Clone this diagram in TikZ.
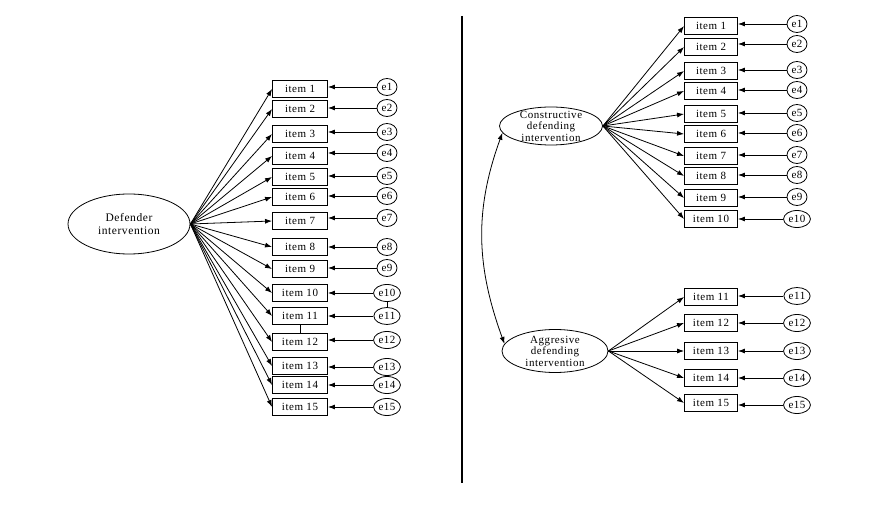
\documentclass[tikz,border=0pt]{standalone}
\usepackage{fontspec}
\setmainfont{Liberation Serif}[LetterSpace=5]
\usepackage{tikz}
\usetikzlibrary{shapes.geometric,arrows.meta}

\begin{document}
\begin{tikzpicture}[x=1pt,y=1pt,font=\fontsize{11}{11.5}\selectfont]
	\tikzstyle{item}=[draw=black,line width=0.9pt,minimum width=55,minimum height=17,inner sep=1pt]
	\tikzstyle{err}=[ellipse,draw=black,line width=0.8pt,minimum width=20,minimum height=17,inner sep=1pt]
	\tikzstyle{factor}=[ellipse,draw=black,line width=0.8pt,inner sep=0pt,align=center]
	\tikzstyle{load}=[-{Latex[length=7pt,width=5pt]},line width=0.8pt]
	\tikzstyle{resid}=[-{Latex[length=7pt,width=5pt]},line width=0.8pt]
	\useasboundingbox (0,0) rectangle (894,-526);

	% one factor
	\node[factor,minimum width=122,minimum height=60,font=\fontsize{11.5}{12.5}\selectfont](def) at (129,-224) {Defender\\intervention};
	\foreach \i/\y/\ey in {1/89/87,2/109/108,3/134/132,4/156/153,5/177/176,6/197/196,7/221/218,8/247/247,
		9/269/268,10/293/293,11/316/316,12/342/340,13/366/367,14/385/385,15/407/407} {
		\node[item](l\i) at (300,-\y) {item \i};
		\node[err](le\i) at (387,-\ey) {e\i};
		\draw[load] (def.east) -- (l\i.west);
		\draw[resid] (le\i.west) -- (le\i -| l\i.east);
	}
	\draw[line width=0.8pt] (l11.south) -- (l12.north);
	\draw[line width=0.8pt] (le10.south) -- (le11.north);

	% divider
	\coordinate (top) at (462,-16);
	\coordinate (bot) at (462,-483);
	\draw[line width=1.6pt] (top) -- (bot);

	% two factors
	\node[factor,minimum width=103,minimum height=38,inner ysep=-3pt](cdi) at (551,-126) {Constructive\\defending\\intervention};
	\node[factor,minimum width=106,minimum height=43,inner ysep=-3pt](adi) at (555,-351) {Aggresive\\defending\\intervention};
	\foreach \i/\y/\ey in {1/26/24,2/47/44,3/71/70,4/91/90,5/114/113,6/134/133,7/156/155,8/176/175,9/198/197,10/219/219} {
		\node[item,minimum width=53](r\i) at (711,-\y) {item \i};
		\node[err](re\i) at (797,-\ey) {e\i};
		\draw[load] (cdi.east) -- (r\i.west);
		\draw[resid] (re\i.west) -- (re\i -| r\i.east);
	}
	\foreach \i/\y/\ey in {11/297/296,12/323/323,13/351/351,14/378/378,15/403/405} {
		\node[item,minimum width=53](r\i) at (711,-\y) {item \i};
		\node[err](re\i) at (797,-\ey) {e\i};
		\draw[load] (adi.east) -- (r\i.west);
		\draw[resid] (re\i.west) -- (re\i -| r\i.east);
	}
	\draw[{Latex[length=7pt,width=5pt]}-{Latex[length=7pt,width=5pt]},line width=0.8pt] (cdi.188) to[out=250,in=110] (adi.172);
\end{tikzpicture}
\end{document}
